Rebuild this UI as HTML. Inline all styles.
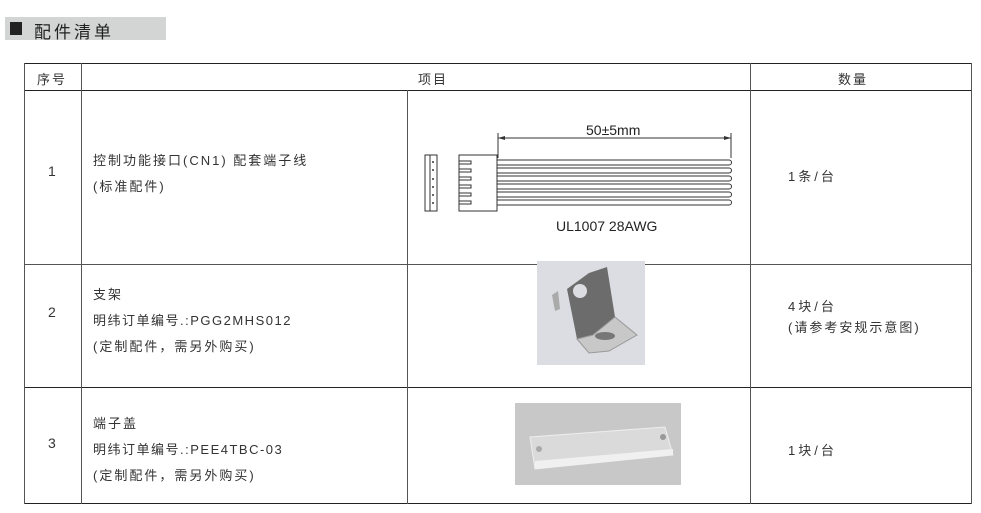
<!DOCTYPE html>
<html><head><meta charset="utf-8"><style>
body{margin:0;width:981px;height:513px;background:#fff;position:relative;overflow:hidden;font-family:"Liberation Sans","Noto Sans CJK SC",sans-serif;color:#222}
.a{position:absolute}
.t{position:absolute;font-size:13px;letter-spacing:2px;white-space:nowrap;color:#333}
.h{background:#222}
.v{background:#555}
</style></head><body>
<div class="a" style="left:5px;top:17px;width:161px;height:23px;background:#d3d5d4"></div>
<div class="a" style="left:10px;top:22px;width:12px;height:13px;background:#222"></div>
<div class="t" style="left:34px;top:18px;font-size:17px;letter-spacing:3px;color:#222">配件清单</div>

<div class="a h" style="left:24px;top:63px;width:948px;height:1px"></div>
<div class="a h" style="left:24px;top:90px;width:948px;height:1px"></div>
<div class="a v" style="left:24px;top:264px;width:948px;height:1px"></div>
<div class="a h" style="left:24px;top:387px;width:948px;height:1px"></div>
<div class="a h" style="left:24px;top:503px;width:948px;height:1px"></div>
<div class="a v" style="left:24px;top:63px;width:1px;height:441px"></div>
<div class="a v" style="left:81px;top:63px;width:1px;height:441px"></div>
<div class="a v" style="left:407px;top:90px;width:1px;height:414px"></div>
<div class="a v" style="left:750px;top:63px;width:1px;height:441px"></div>
<div class="a v" style="left:971px;top:63px;width:1px;height:441px"></div>

<div class="t" style="left:37px;top:69px">序号</div>
<div class="t" style="left:418px;top:69px">项目</div>
<div class="t" style="left:838px;top:69px">数量</div>

<div class="t" style="left:48px;top:163px;font-size:14px">1</div>
<div class="t" style="left:93px;top:150px">控制功能接口(CN1) 配套端子线</div>
<div class="t" style="left:93px;top:176px">(标准配件)</div>
<div class="t" style="left:788px;top:166px;letter-spacing:3px">1条/台</div>

<div class="t" style="left:48px;top:304px;font-size:14px">2</div>
<div class="t" style="left:93px;top:284px">支架</div>
<div class="t" style="left:93px;top:310px;letter-spacing:1.5px">明纬订单编号.:PGG2MHS012</div>
<div class="t" style="left:93px;top:336px">(定制配件，需另外购买)</div>
<div class="t" style="left:788px;top:296px;letter-spacing:3px">4块/台</div>
<div class="t" style="left:788px;top:317px">(请参考安规示意图)</div>

<div class="t" style="left:48px;top:435px;font-size:14px">3</div>
<div class="t" style="left:93px;top:413px">端子盖</div>
<div class="t" style="left:93px;top:439px;letter-spacing:1.5px">明纬订单编号.:PEE4TBC-03</div>
<div class="t" style="left:93px;top:465px">(定制配件，需另外购买)</div>
<div class="t" style="left:788px;top:440px;letter-spacing:3px">1块/台</div>

<svg class="a" style="left:410px;top:120px" width="340" height="120" viewBox="410 120 340 120">
<g fill="none" stroke="#333" stroke-width="1">
<rect x="425" y="155" width="12" height="56"/><rect x="430" y="155" width="7" height="56"/>
<rect x="459" y="155" width="38" height="56"/>
<line x1="498" y1="133" x2="498" y2="158"/><line x1="731" y1="133" x2="731" y2="158"/>
<line x1="498" y1="138" x2="731" y2="138"/>
<path d="M497 160h232a2.5 2.5 0 0 1 0 5h-232M497 168h232a2.5 2.5 0 0 1 0 5h-232M497 176h232a2.5 2.5 0 0 1 0 5h-232M497 184h232a2.5 2.5 0 0 1 0 5h-232M497 192h232a2.5 2.5 0 0 1 0 5h-232M497 200h232a2.5 2.5 0 0 1 0 5h-232"/>
<path d="M459 161h12v3h-12M459 169h12v3h-12M459 177h12v3h-12M459 185h12v3h-12M459 193h12v3h-12M459 201h12v3h-12"/>
</g>
<path d="M498 138l7-2v4zM731 138l-7-2v4z" fill="#333"/>
<g fill="#666"><rect x="432" y="161" width="2" height="2"/><rect x="432" y="169" width="2" height="2"/><rect x="432" y="178" width="2" height="2"/><rect x="432" y="186" width="2" height="2"/><rect x="432" y="194" width="2" height="2"/><rect x="432" y="202" width="2" height="2"/></g>
<text x="586" y="135" font-size="14" font-family="Liberation Sans,sans-serif" fill="#222">50±5mm</text>
<text x="556" y="231" font-size="14" font-family="Liberation Sans,sans-serif" fill="#222">UL1007  28AWG</text>
</svg>

<svg class="a" style="left:537px;top:261px" width="108" height="104">
<rect width="108" height="104" fill="#dcdde2"/>
<path d="M30 28L52 12 70 6 78 56 56 74 40 78z" fill="#6c6c6c"/>
<path d="M40 78L56 74 78 56 100 74 72 90 52 92z" fill="#c8c8c8" stroke="#999"/>
<path d="M15 34l6-4 2 18-5 2z" fill="#aaa"/>
<ellipse cx="43" cy="30" rx="7" ry="7" fill="#dcdde2"/>
<ellipse cx="68" cy="75" rx="10" ry="4" fill="#777"/>
</svg>

<svg class="a" style="left:515px;top:403px" width="166" height="82">
<rect width="166" height="82" fill="#c8c8c8"/>
<path d="M15 34L150 24 158 52 20 66z" fill="#dadada" stroke="#eee"/>
<path d="M20 58L158 46 158 52 20 66z" fill="#f0f0f0"/>
<circle cx="148" cy="34" r="3" fill="#999"/><circle cx="24" cy="46" r="3" fill="#aaa"/>
</svg>
</body></html>
